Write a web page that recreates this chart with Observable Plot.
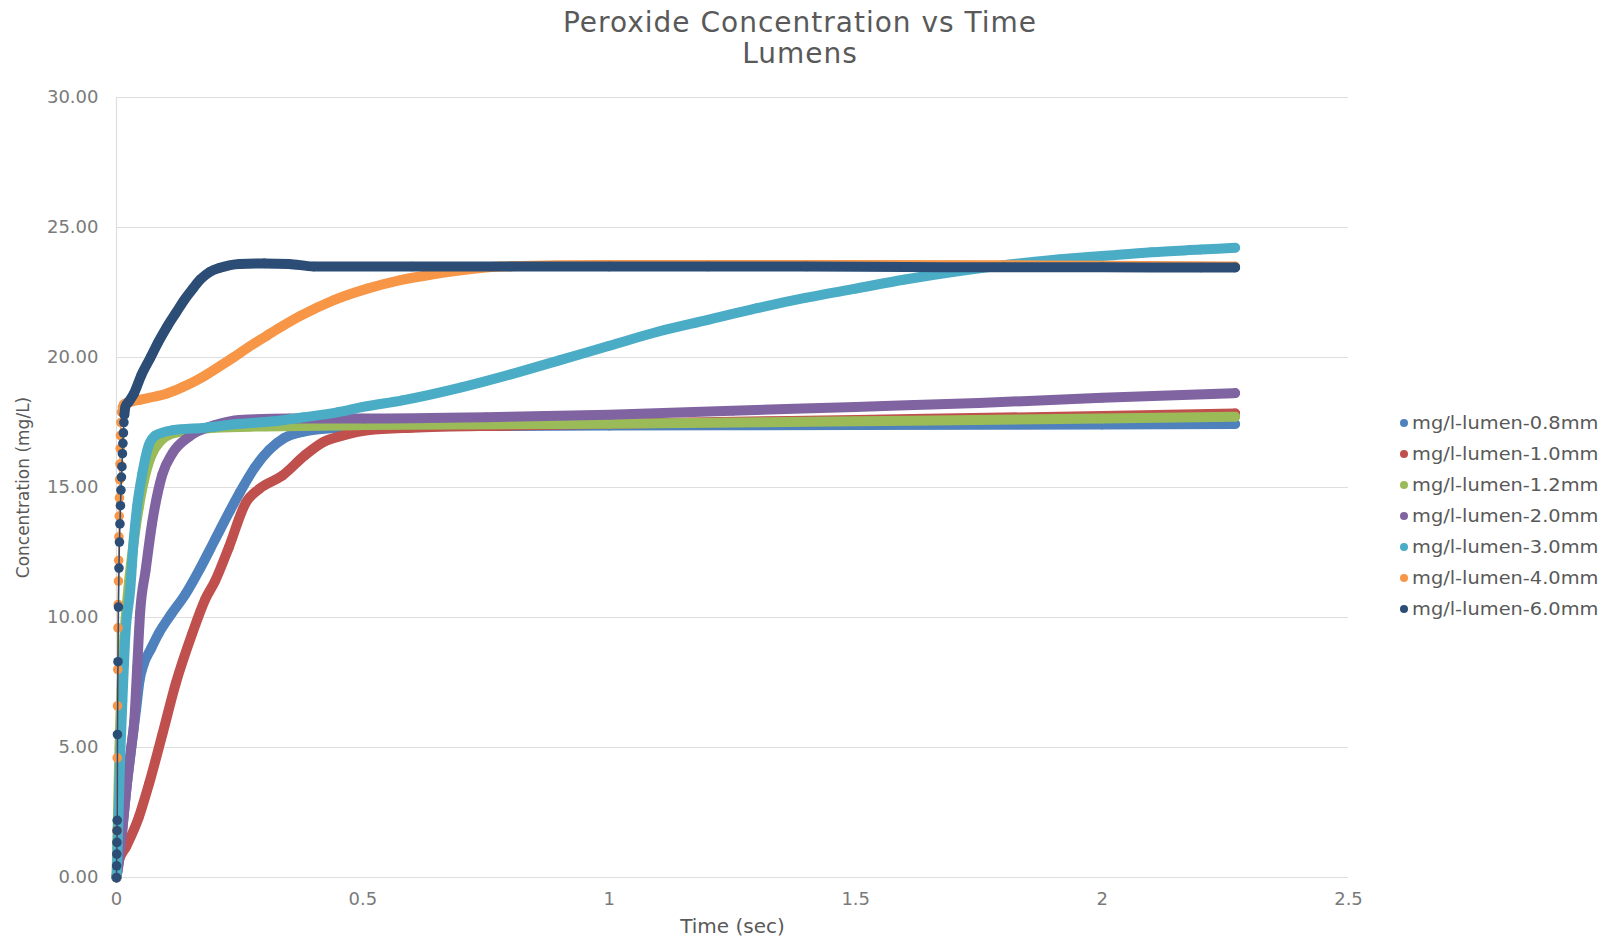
<!DOCTYPE html>
<html><head><meta charset="utf-8">
<script src="https://cdn.jsdelivr.net/npm/d3@7"></script>
<script src="https://cdn.jsdelivr.net/npm/@observablehq/plot@0.6"></script>
<style>
html,body{margin:0;padding:0;background:#fff;}
#wrap{position:relative;width:1610px;height:938px;font-family:"DejaVu Sans",sans-serif;}
#chart{position:absolute;left:0;top:0;}
#title{position:absolute;left:0;width:1600px;top:7px;text-align:center;color:#595959;font-size:28px;line-height:31px;letter-spacing:1px;}
#legend{position:absolute;left:1400px;top:407px;color:#595959;font-size:17px;}
.row{height:31.1px;display:flex;align-items:center;white-space:nowrap;}
.sw{width:8px;height:8px;border-radius:50%;margin-right:4px;flex:none;}
.tx{display:inline-block;transform:scaleX(1.14);transform-origin:left center;}
</style></head>
<body><div id="wrap"><div id="chart"></div>
<div id="title">Peroxide Concentration vs Time<br>Lumens</div>
<div id="legend"></div></div>
<script>
// ---- data ----
const seriesNames = ["mg/l-lumen-0.8mm","mg/l-lumen-1.0mm","mg/l-lumen-1.2mm","mg/l-lumen-2.0mm","mg/l-lumen-3.0mm","mg/l-lumen-4.0mm","mg/l-lumen-6.0mm"];

const t08 = [0,0.005,0.01,0.02,0.03,0.04,0.047,0.055,0.07,0.086,0.11,0.14,0.17,0.2,0.23,0.25,0.28,0.31,0.34,0.38,0.45,0.55,0.8,1.0,1.5,2.0,2.27];
const c08 = [0,0.6,1.5,3.4,5.0,6.5,7.6,8.2,8.8,9.4,10.1,10.9,11.9,13.0,14.1,14.8,15.75,16.45,16.9,17.15,17.3,17.35,17.37,17.38,17.4,17.42,17.44];

const t10 = [0,0.005,0.02,0.045,0.066,0.093,0.12,0.154,0.18,0.2,0.228,0.262,0.29,0.336,0.383,0.42,0.46,0.51,0.6,0.8,1.0,1.5,2.0,2.27];
const c10 = [0,0.65,1.2,2.3,3.6,5.5,7.45,9.4,10.7,11.4,12.7,14.4,14.95,15.45,16.25,16.75,17.0,17.2,17.3,17.38,17.45,17.6,17.75,17.85];

const t12 = [0,0.003,0.006,0.01,0.016,0.025,0.035,0.045,0.055,0.07,0.09,0.11,0.15,0.2,0.3,0.5,1.0,1.5,2.0,2.27];
const c12 = [0,2.5,5.0,7.2,9.3,11.3,12.9,14.2,15.2,16.2,16.8,17.05,17.2,17.3,17.35,17.4,17.45,17.55,17.65,17.72];

const t20 = [0,0.01,0.02,0.03,0.036,0.042,0.048,0.059,0.072,0.093,0.113,0.147,0.2,0.25,0.35,0.5,0.75,1.0,1.25,1.5,1.75,2.0,2.27];
const c20 = [0,1.5,3.4,5.0,6.0,8.1,10.2,11.8,13.6,15.5,16.3,16.95,17.4,17.6,17.65,17.65,17.7,17.8,17.95,18.1,18.25,18.45,18.63];

const t30 = [0,0.001,0.005,0.008,0.012,0.018,0.028,0.035,0.042,0.052,0.065,0.079,0.113,0.18,0.25,0.32,0.38,0.45,0.5,0.58,0.7,0.8,0.9,1.0,1.1,1.2,1.3,1.4,1.5,1.6,1.7,1.8,1.9,2.0,2.1,2.2,2.27];
const c30 = [0,0.4,3.0,4.9,6.8,9.3,11.1,13.0,14.3,15.5,16.6,17.0,17.2,17.3,17.45,17.55,17.7,17.9,18.1,18.35,18.85,19.35,19.9,20.45,21.0,21.45,21.9,22.3,22.65,23.0,23.3,23.55,23.75,23.9,24.05,24.15,24.22];

const t40 = [0,0.001,0.0015,0.002,0.0025,0.003,0.0035,0.004,0.0045,0.005,0.0055,0.006,0.0065,0.007,0.0075,0.008,0.009,0.01,0.012,0.015,0.02,0.03,0.049,0.079,0.103,0.133,0.17,0.2,0.237,0.268,0.306,0.336,0.373,0.44,0.509,0.576,0.643,0.711,0.779,1.0,1.5,2.0,2.27];
const c40 = [0,1.8,4.6,6.6,8.0,9.6,10.5,11.4,12.2,13.1,13.9,14.6,15.3,15.9,16.5,17.0,17.5,17.9,18.1,18.2,18.25,18.3,18.38,18.5,18.62,18.85,19.2,19.55,20.0,20.4,20.85,21.2,21.6,22.2,22.65,22.98,23.2,23.38,23.5,23.56,23.56,23.53,23.5];

const t60 = [0,0.0003,0.0006,0.0009,0.0012,0.0015,0.002,0.003,0.004,0.005,0.006,0.007,0.008,0.009,0.010,0.011,0.012,0.013,0.014,0.015,0.016,0.018,0.025,0.035,0.05,0.069,0.085,0.103,0.12,0.137,0.155,0.17,0.19,0.21,0.25,0.3,0.35,0.4,0.6,0.8,1.0,1.2,1.4,1.6,1.8,2.0,2.2,2.27];
const c60 = [0,0.45,0.9,1.35,1.8,2.2,5.5,8.3,10.4,11.9,12.9,13.6,14.3,14.9,15.4,15.8,16.3,16.7,17.1,17.5,17.8,18.1,18.3,18.6,19.3,20.0,20.6,21.2,21.7,22.2,22.65,23.0,23.3,23.45,23.6,23.62,23.6,23.5,23.5,23.5,23.5,23.5,23.5,23.48,23.47,23.47,23.46,23.46];

const xTicks = [0,0.5,1,1.5,2,2.5];
const xTickLabels = ["0","0.5","1","1.5","2","2.5"];
const yTicks = [0,5,10,15,20,25,30];
const yTickLabels = ["0.00","5.00","10.00","15.00","20.00","25.00","30.00"];

// ---- styles ----
const colors = ["#4F81BD","#C0504D","#9BBB59","#8064A2","#4BACC6","#F79646","#2C4D75"];
const sparseUntil = [0,0,0,0,0,0.015,0.016]; // where markers are still apart

const times = [t08,t10,t12,t20,t30,t40,t60];
const concs = [c08,c10,c12,c20,c30,c40,c60];

const marks = [
  Plot.ruleY(yTicks, {stroke:"#dedede", strokeWidth:1.2}),
  Plot.ruleX([0], {stroke:"#dedede", strokeWidth:1.2}),
  Plot.text(["Time (sec)"], {text:d=>d, frameAnchor:"bottom", dy:55, fontSize:20, fill:"#595959"}),
  Plot.text(["Concentration (mg/L)"], {text:d=>d, frameAnchor:"left", textAnchor:"middle", dx:-93, rotate:-90, fontSize:17, fill:"#595959"})
];
seriesNames.forEach((name, i) => {
  const data = times[i].map((t, j) => ({t, c: concs[i][j], s: name}));
  const solid = data.filter(d => d.t >= sparseUntil[i]);
  marks.push(Plot.line(solid, {x:"t", y:"c", stroke:colors[i], strokeWidth:10, curve:"monotone-x", strokeLinecap:"round", strokeLinejoin:"round"}));
  marks.push(Plot.line(data, {x:"t", y:"c", stroke:colors[i], strokeWidth:1.5, curve:"monotone-x"}));
  marks.push(Plot.dot(data, {x:"t", y:"c", r:4.8, fill:colors[i], stroke:"none"}));
});

const chart = Plot.plot({
  width:1610, height:938,
  marginTop:97, marginBottom:61, marginLeft:116, marginRight:262,
  style:{fontFamily:'"DejaVu Sans", sans-serif', fontSize:"18px", color:"#7a7a7a", background:"white"},
  x:{domain:[0,2.5], ticks:xTicks, tickFormat:(d)=>xTickLabels[xTicks.indexOf(d)], tickSize:0, tickPadding:15, label:null},
  y:{domain:[0,30], ticks:yTicks, tickFormat:(d)=>yTickLabels[yTicks.indexOf(d)], tickSize:0, tickPadding:18, label:null},
  marks
});
document.getElementById("chart").appendChild(chart);

const leg = document.getElementById("legend");
seriesNames.forEach((name, i) => {
  const row = document.createElement("div");
  row.className = "row";
  const sw = document.createElement("span");
  sw.className = "sw"; sw.style.background = colors[i];
  const tx = document.createElement("span");
  tx.className = "tx";
  tx.textContent = name;
  row.appendChild(sw); row.appendChild(tx);
  leg.appendChild(row);
});
</script></body></html>
